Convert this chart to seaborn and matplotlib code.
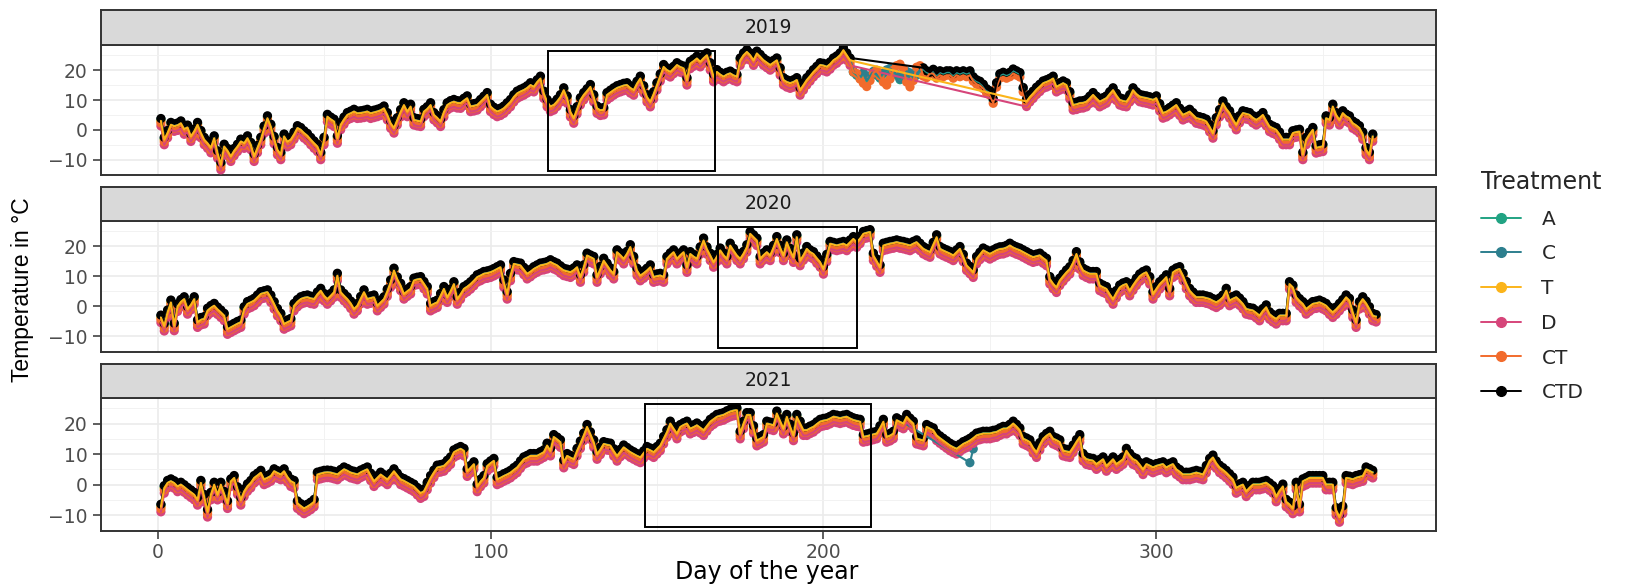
import numpy as np
import pandas as pd
import matplotlib
matplotlib.use("Agg")
import matplotlib.pyplot as plt
from matplotlib.lines import Line2D
from matplotlib.patches import Rectangle
import seaborn as sns

# ---------------------------------------------------------------- data
years = [2019, 2020, 2021]
treatments = ["A", "C", "T", "D", "CT", "CTD"]
palette = ["#21A383", "#2D7F8E", "#FBB41A", "#D6457A", "#F26B2C", "#000000"]
# mean difference of each treatment from the T series (degC)
treatment_shift = [0.3, 0.6, 0.0, -1.7, -0.7, 0.8]

# daily mean temperature of treatment T, day 1 .. end of year
t_2019 = [
    3.0, -3.3, -1.0, 1.7, 1.2, 1.5, 2.2, 0.2, 0.8, -2.2,
    -0.5, 1.7, -1.0, -3.3, -4.5, -6.0, -2.8, -7.8, -11.7, -5.6,
    -7.0, -8.9, -7.0, -5.6, -3.9, -4.5, -2.8, -5.0, -8.9, -6.0,
    -3.3, 0.5, 3.9, 1.1, -3.0, -6.7, -8.3, -2.2, -4.0, -3.3,
    -1.5, 0.6, 0.0, -1.1, -2.0, -3.3, -4.5, -5.6, -8.3, -3.3,
    4.4, 3.5, 2.8, -2.8, 1.7, 3.5, 5.0, 5.5, 6.1, 5.5,
    5.6, 5.8, 6.1, 5.5, 5.8, 6.1, 6.5, 7.2, 5.0, 2.2,
    0.6, 3.3, 6.0, 8.3, 6.1, 7.8, 3.3, 3.0, 2.8, 6.1,
    7.0, 8.3, 5.0, 4.0, 2.8, 6.0, 8.3, 9.0, 9.4, 9.0,
    8.9, 9.8, 10.6, 7.8, 8.0, 8.3, 9.4, 10.5, 11.7, 7.8,
    6.8, 6.1, 6.5, 7.2, 8.3, 9.4, 11.0, 12.2, 12.8, 13.3,
    14.0, 15.0, 14.4, 16.0, 17.2, 12.2, 9.4, 7.8, 8.3, 9.5,
    11.0, 13.3, 10.6, 6.0, 3.9, 7.0, 10.0, 11.7, 13.0, 14.4,
    11.0, 7.2, 6.5, 6.7, 11.7, 12.5, 13.3, 14.0, 14.4, 14.8,
    15.0, 14.0, 13.3, 15.5, 17.2, 14.0, 11.0, 9.4, 12.0, 15.0,
    18.0, 21.1, 20.0, 19.4, 20.5, 21.7, 21.0, 20.6, 16.7, 22.2,
    23.0, 23.9, 22.8, 24.0, 25.0, 21.7, 17.8, 19.4, 18.5, 17.8,
    18.5, 18.9, 18.2, 17.8, 23.3, 25.0, 26.1, 25.0, 23.3, 25.6,
    24.5, 23.3, 22.5, 21.7, 22.5, 23.3, 20.0, 16.7, 16.0, 15.6,
    16.0, 16.7, 13.3, 15.0, 16.7, 18.0, 19.4, 20.5, 21.7, 21.5,
    21.1, 22.0, 23.3, 24.0, 25.0, 26.7, 25.0, 23.3, 19.0, 18.0,
    17.0, 18.5, 16.0, 17.5, 19.0, 18.0, 17.0, 18.5, 19.5, 20.0,
    19.0, 18.0, 16.5, 17.5, 19.0, 18.5, 17.0, 18.0, 19.5, 20.0,
    19.0, 18.5, 19.5, 18.0, 19.0, 18.5, 19.0, 19.0, 18.0, 19.0,
    18.5, 19.0, 18.5, 19.0, 17.0, 16.0, 15.5, 14.5, 13.0, 12.3,
    9.6, 15.0, 18.0, 18.5, 18.0, 18.5, 19.6, 19.0, 18.4, 13.4,
    9.5, 11.0, 12.2, 13.5, 14.5, 15.6, 16.0, 16.5, 17.2, 14.4,
    15.0, 15.6, 15.0, 12.0, 8.3, 8.5, 8.9, 9.0, 9.4, 10.5,
    11.7, 10.5, 9.4, 10.0, 10.6, 12.0, 13.3, 11.5, 10.0, 9.6,
    9.4, 11.0, 13.3, 12.0, 11.1, 10.8, 10.6, 10.3, 10.0, 10.6,
    8.0, 5.6, 6.0, 6.7, 7.5, 8.3, 6.5, 5.0, 5.5, 6.1,
    5.0, 3.9, 3.6, 3.3, 2.8, 1.0, -1.1, 3.3, 6.0, 8.9,
    7.0, 5.6, 3.5, 1.7, 4.0, 5.6, 5.3, 5.0, 4.0, 3.3,
    4.0, 5.0, 3.0, 1.1, 0.5, 0.0, -1.5, -3.3, -3.3, -3.3,
    -1.1, -0.8, -0.6, -8.3, -3.3, -1.5, 0.0, -6.1, -5.8, -5.6,
    3.9, 3.3, 7.8, 5.0, 3.3, 5.6, 4.5, 3.9, 2.2, 1.5,
    0.6, -1.5, -6.7, -8.3, -2.2,
]

t_2020 = [
    -3.7, -6.5, -2.0, 1.3, -6.4, 0.0, 1.5, 2.4, -0.9, 0.5,
    2.4, -5.3, -4.5, -4.2, -1.4, -0.5, 0.2, -1.0, -2.0, -3.1,
    -7.6, -7.0, -6.4, -5.8, -5.3, -0.9, 0.8, 1.3, 1.9, 3.0,
    4.1, 4.4, 4.7, 3.0, 0.8, -1.5, -3.1, -5.9, -5.3, -4.8,
    0.2, 1.5, 2.4, 2.8, 3.0, 2.6, 2.4, 4.0, 5.2, 3.5,
    2.4, 3.5, 4.7, 10.2, 4.7, 3.5, 2.4, 1.0, -0.9, 0.2,
    2.5, 4.7, 2.4, 2.7, 3.0, 0.2, 1.3, 2.4, 5.0, 8.0,
    11.9, 9.0, 6.9, 4.1, 5.0, 5.8, 8.6, 8.9, 9.1, 7.5,
    5.8, 0.2, 0.8, 1.3, 3.5, 5.8, 3.0, 5.0, 7.4, 2.4,
    4.0, 5.8, 6.5, 7.4, 8.5, 9.7, 10.2, 10.8, 11.0, 11.3,
    11.8, 12.4, 13.0, 8.0, 4.1, 10.2, 14.1, 13.8, 13.6, 12.2,
    10.8, 11.5, 12.4, 13.0, 13.6, 13.8, 14.1, 14.7, 14.1, 13.6,
    12.7, 11.9, 11.6, 11.3, 12.0, 13.0, 9.7, 13.0, 16.9, 16.3,
    15.8, 9.7, 12.5, 15.2, 13.6, 12.0, 10.8, 18.0, 17.0, 15.8,
    17.5, 19.7, 15.8, 11.9, 10.2, 11.0, 11.9, 13.0, 9.7, 10.0,
    10.2, 9.7, 15.8, 17.0, 18.0, 15.8, 17.0, 18.0, 13.0, 17.4,
    16.5, 15.8, 19.0, 21.9, 19.0, 16.9, 14.7, 16.5, 18.6, 17.0,
    15.8, 20.2, 18.5, 16.9, 15.8, 17.5, 19.7, 24.1, 23.0, 21.9,
    15.8, 17.0, 18.0, 16.9, 19.5, 22.4, 19.5, 16.9, 21.3, 18.5,
    16.3, 23.0, 15.2, 17.0, 19.1, 18.0, 17.4, 16.0, 14.7, 12.4,
    16.5, 20.8, 20.5, 20.2, 20.5, 20.8, 20.2, 21.3, 22.4, 21.3,
    22.5, 24.1, 24.4, 24.7, 16.9, 15.0, 13.0, 20.2, 20.5, 20.8,
    21.0, 21.3, 21.0, 20.8, 20.5, 20.2, 20.8, 21.3, 20.2, 19.1,
    18.5, 18.0, 20.5, 23.0, 19.1, 18.5, 18.0, 17.5, 16.9, 18.0,
    19.1, 16.5, 13.6, 12.5, 11.3, 15.8, 17.2, 18.6, 18.0, 17.4,
    18.0, 18.6, 19.0, 19.1, 19.5, 20.2, 19.5, 19.0, 18.6, 18.0,
    17.4, 16.8, 16.3, 16.6, 16.9, 16.0, 15.2, 9.1, 7.5, 6.3,
    8.6, 10.0, 11.3, 12.4, 14.5, 17.4, 14.0, 11.9, 11.3, 10.8,
    10.8, 10.8, 6.9, 6.3, 5.8, 4.0, 2.4, 4.5, 6.3, 7.0,
    7.4, 5.2, 7.0, 8.6, 10.0, 10.8, 11.3, 9.1, 4.1, 5.8,
    7.4, 8.5, 9.7, 5.2, 11.3, 12.0, 12.4, 10.2, 7.5, 5.2,
    4.0, 3.0, 3.0, 3.0, 2.7, 2.4, 1.8, 1.3, 2.0, 3.0,
    5.2, 1.9, 2.5, 3.0, 2.0, 0.8, -0.9, -1.2, -1.4, -2.2,
    -3.1, -1.5, -0.3, -2.6, -3.5, -4.2, -3.1, -3.1, -3.1, 7.4,
    6.3, 3.0, 1.8, 0.8, -0.9, 0.0, 0.8, 1.0, 1.3, 0.8,
    0.2, -1.0, -2.0, -1.0, 0.2, 1.5, 3.0, 1.9, -2.0, -5.3,
    0.8, 2.4, 1.0, -0.9, -3.1, -3.5,
]

t_2021 = [
    -7.2, -1.1, 0.6, 1.1, 0.5, -0.6, 0.0, -0.8, -1.7, -2.5,
    -3.3, -5.0, 0.6, -4.0, -8.9, -3.3, 0.0, -3.3, 0.0, -3.0,
    -6.1, 1.1, 2.2, -1.5, -5.0, -2.2, -0.5, 0.6, 2.2, 3.0,
    3.9, 1.7, 2.2, 2.8, 4.4, 3.8, 3.3, 4.4, 2.5, 1.1,
    0.6, -6.1, -7.0, -7.8, -7.2, -6.5, -5.6, 3.3, 3.6, 3.9,
    4.0, 3.9, 3.6, 3.3, 4.2, 5.0, 4.5, 3.9, 3.6, 3.3,
    4.0, 4.5, 5.0, 3.0, 1.1, 2.2, 3.3, 2.5, 1.7, 3.0,
    4.4, 3.0, 1.7, 1.2, 0.6, 0.0, -0.6, -1.7, -2.8, -2.2,
    0.0, 2.2, 4.0, 5.6, 5.8, 6.1, 7.2, 8.3, 10.6, 11.2,
    11.7, 11.1, 4.4, 5.5, 6.7, -0.6, 1.0, 2.2, 6.1, 7.0,
    7.8, 1.7, 2.2, 2.8, 3.3, 3.9, 4.8, 5.6, 7.0, 8.3,
    8.8, 9.4, 9.4, 9.4, 10.0, 10.6, 12.8, 11.1, 15.6, 14.8,
    13.9, 7.2, 9.4, 8.8, 8.3, 11.1, 13.5, 16.1, 18.9, 16.5,
    13.9, 10.0, 11.5, 13.3, 13.0, 12.8, 11.0, 9.4, 10.8, 12.2,
    11.4, 10.6, 10.0, 9.4, 8.9, 10.3, 11.7, 11.2, 10.6, 11.7,
    12.8, 15.0, 17.2, 20.0, 18.3, 16.7, 18.9, 19.5, 20.0, 18.3,
    18.8, 19.4, 18.6, 17.8, 19.2, 20.6, 21.4, 22.2, 22.5, 22.8,
    23.4, 23.9, 24.2, 24.4, 16.7, 20.0, 22.8, 22.8, 18.5, 14.4,
    15.0, 15.6, 20.0, 19.7, 19.4, 23.3, 20.8, 18.3, 22.2, 19.0,
    16.1, 22.2, 20.0, 17.8, 17.8, 18.4, 18.9, 19.8, 20.6, 20.9,
    21.1, 21.6, 22.2, 22.0, 21.7, 22.0, 22.2, 21.6, 21.1, 20.8,
    20.6, 15.6, 15.8, 16.1, 16.4, 16.7, 18.5, 20.6, 15.6, 16.0,
    16.7, 21.1, 20.5, 20.0, 22.2, 21.0, 20.0, 15.0, 14.7, 14.4,
    18.9, 18.3, 17.8, 16.1, 15.2, 14.4, 13.6, 12.8, 12.2, 11.7,
    12.5, 13.3, 13.8, 14.4, 15.2, 16.1, 16.4, 16.7, 16.7, 16.7,
    17.0, 17.2, 17.8, 18.3, 18.3, 19.0, 20.0, 19.0, 17.8, 15.0,
    14.5, 13.9, 12.0, 10.6, 13.0, 15.0, 16.0, 16.7, 15.0, 14.5,
    13.9, 11.1, 10.8, 10.6, 12.2, 14.0, 15.6, 9.4, 8.3, 8.0,
    7.8, 6.7, 7.5, 8.3, 6.1, 7.2, 8.3, 6.7, 7.5, 8.3,
    11.1, 9.5, 8.3, 7.8, 6.5, 5.0, 6.7, 6.2, 5.6, 6.1,
    6.4, 6.7, 5.6, 6.2, 6.7, 5.0, 4.2, 3.3, 3.3, 3.3,
    3.6, 3.9, 3.6, 3.3, 5.5, 7.8, 8.9, 7.0, 5.6, 4.8,
    3.9, 2.8, 1.7, -1.1, -0.5, 0.0, -2.2, -1.0, 0.0, 0.0,
    0.0, 0.3, 0.6, -0.2, -1.1, -3.9, -2.0, -0.6, -5.6, -6.5,
    -7.8, 0.0, -7.2, 1.1, 1.6, 2.2, 2.2, 2.2, 2.2, 2.2,
    0.0, 0.0, 0.0, -8.3, -10.6, -7.8, 2.2, 2.0, 1.7, 2.2,
    2.5, 2.8, 5.0, 4.5, 3.9,
]

# logger failures in summer 2019: T and D lost days 209-260, CTD days 209-229
gap_2019_t_d = (209, 260)
gap_2019_ctd = (209, 229)
# CT sensor readings during the 2019 outage period (days 209-232)
ct_2019_first_day = 209
ct_2019_temps = [19.4, 18.9, 17.0, 15.6, 14.5, 16.5, 19.0, 20.0, 18.0, 16.0,
                 15.0, 17.0, 20.0, 21.5, 22.0, 20.5, 16.0, 14.4, 16.5, 21.0,
                 21.5, 18.0, 17.5, 19.0]
# C logger in 2021 stopped after day 222, two last readings afterwards
c_2021_last_day = 222
c_2021_tail_days = [244, 245]
c_2021_tail_temps = [7.2, 11.7]

# outlined period per year (start day, end day) and its temperature span
window_days = {2019: (117.3, 167.3), 2020: (168.2, 210.2), 2021: (146.3, 214.4)}
window_temp = (-13.7, 26.5)

# ---------------------------------------------------------------- long table
rows = []
for year, temps in zip(years, [t_2019, t_2020, t_2021]):
    for trt, dv in zip(treatments, treatment_shift):
        for day, v in enumerate(temps, start=1):
            if year == 2019:
                if trt in ("T", "D") and gap_2019_t_d[0] <= day <= gap_2019_t_d[1]:
                    continue
                if trt == "CTD" and gap_2019_ctd[0] <= day <= gap_2019_ctd[1]:
                    continue
                k = day - ct_2019_first_day
                if trt == "CT" and 0 <= k < len(ct_2019_temps):
                    rows.append((year, day, trt, ct_2019_temps[k]))
                    continue
            if year == 2021 and trt == "C" and day > c_2021_last_day:
                continue
            rows.append((year, day, trt, round(v + dv, 2)))
    if year == 2021:
        for day, v in zip(c_2021_tail_days, c_2021_tail_temps):
            rows.append((year, day, "C", v))

df = pd.DataFrame(rows, columns=["Year", "Day", "Treatment", "Temp"])
df["Treatment"] = pd.Categorical(df["Treatment"], categories=treatments, ordered=True)
df = df.sort_values(["Year", "Treatment", "Day"]).reset_index(drop=True)
color_of = dict(zip(treatments, palette))

# ---------------------------------------------------------------- figure
sns.set_theme(style="white")
plt.rcParams["font.family"] = ["DejaVu Sans"]

W, H = 1632, 585
fig = plt.figure(figsize=(W / 100, H / 100), dpi=100)
left_px, right_px = 101, 1436
panel_px = [(44.8, 174.9), (220.6, 351.8), (397.6, 530.8)]
strip_px = [(10.4, 44.8), (187.3, 220.6), (364.3, 397.6)]
border = "#333333"

line_order = ["A", "C", "D", "CT", "CTD", "T"]

for i, year in enumerate(years):
    top, bot = panel_px[i]
    ax = fig.add_axes([left_px / W, 1 - bot / H, (right_px - left_px) / W, (bot - top) / H])
    sub = df[df["Year"] == year]

    # points first (CTD drawn last, on top), then the connecting lines
    sns.scatterplot(data=sub, x="Day", y="Temp", hue="Treatment",
                    hue_order=treatments, palette=palette, s=44,
                    linewidth=0, legend=False, ax=ax, zorder=3)
    for trt in line_order:
        part = sub[sub["Treatment"] == trt]
        sns.lineplot(data=part, x="Day", y="Temp", color=color_of[trt],
                     linewidth=1.5, estimator=None, sort=True, ax=ax, zorder=4)

    x0, x1 = window_days[year]
    ax.add_patch(Rectangle((x0, window_temp[0]), x1 - x0, window_temp[1] - window_temp[0],
                           fill=False, edgecolor="black", linewidth=1.4, zorder=6))

    ax.set_xlim(-17, 384)
    ax.set_ylim(-15.1, 28.5)
    ax.set_xticks([0, 100, 200, 300])
    ax.set_xticks([50, 150, 250, 350], minor=True)
    ax.set_yticks([-10, 0, 10, 20])
    ax.set_yticks([-5, 5, 15, 25], minor=True)
    ax.set_facecolor("white")
    ax.grid(which="major", color="#EBEBEB", linewidth=1.2, zorder=0)
    ax.grid(which="minor", color="#F2F2F2", linewidth=0.7, zorder=0)
    ax.set_axisbelow(True)
    for sp in ax.spines.values():
        sp.set_color(border)
        sp.set_linewidth(1.4)
    ax.set_xlabel("")
    ax.set_ylabel("")
    ax.tick_params(axis="y", which="major", length=5.5, width=1.1, color=border,
                   labelsize=13.5, labelcolor="#4D4D4D", pad=4, left=True)
    ax.tick_params(which="minor", length=0)
    if i < 2:
        ax.tick_params(axis="x", which="major", length=0, labelbottom=False)
    else:
        ax.tick_params(axis="x", which="major", length=5.5, width=1.1, color=border,
                       labelsize=13.5, labelcolor="#4D4D4D", pad=3, bottom=True)

    st, sb = strip_px[i]
    sax = fig.add_axes([left_px / W, 1 - sb / H, (right_px - left_px) / W, (sb - st) / H])
    sax.set_facecolor("#D9D9D9")
    sax.set_xticks([])
    sax.set_yticks([])
    for sp in sax.spines.values():
        sp.set_color(border)
        sp.set_linewidth(1.4)
    sax.text(0.5, 0.5, str(year), ha="center", va="center", fontsize=13.5,
             color="#1A1A1A", transform=sax.transAxes)

fig.text(23 / W, 1 - 290 / H, "Temperature in °C", rotation=90, ha="center", va="center",
         fontsize=16.5, family=["Liberation Sans", "DejaVu Sans"], color="black")
fig.text(767 / W, 1 - 572 / H, "Day of the year", ha="center", va="center",
         fontsize=17, color="black")

handles = [Line2D([], [], color=c, linewidth=1.4, marker="o", markersize=7)
           for c in palette]
leg = fig.legend(handles, treatments, loc="upper left",
                 bbox_to_anchor=(1481 / W, 1 - 170 / H), frameon=False,
                 title="Treatment", title_fontsize=17, fontsize=14.5,
                 handlelength=2.0, handletextpad=1.0, labelspacing=0.78,
                 alignment="left", borderaxespad=0, borderpad=0)

fig.savefig("out.png", dpi=100)
